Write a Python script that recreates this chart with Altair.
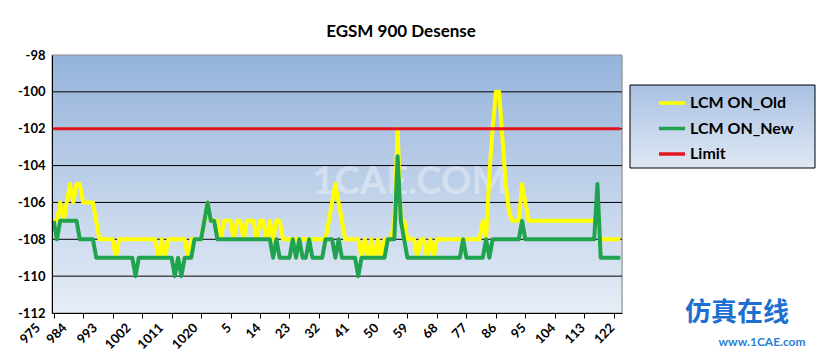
import altair as alt
import pandas as pd

# ---- categories / labels ----
channels = [str(c) for c in list(range(975, 1024)) + list(range(0, 125))]
tick_labels = ["975", "984", "993", "1002", "1011", "1020", "5", "14", "23", "32",
               "41", "50", "59", "68", "77", "86", "95", "104", "113", "122"]
y_ticks = [-112, -110, -108, -106, -104, -102, -100, -98]
grid_values = [-110, -108, -106, -104, -102, -100]
series_names = ["LCM ON_Old", "LCM ON_New", "Limit"]
series_colors = ["#ffff00", "#1fa34f", "#e3141e"]

# ---- series values ----
old_values = [
    -107, -107, -106, -107, -106, -105, -106, -105, -105, -106,   # 0-9
    -106, -106, -106, -107, -108, -108, -108, -108, -108, -109,   # 10-19
    -108, -108, -108, -108, -108, -108, -108, -108, -108, -108,   # 20-29
    -108, -108, -109, -108, -109, -108, -108, -108, -108, -108,   # 30-39
    -108, -109, -108, -108, -108, -108, -107, -106, -107, -107,   # 40-49
    -107, -108, -107, -107, -107, -108, -107, -107, -108, -107,   # 50-59
    -107, -107, -108, -107, -107, -108, -107, -108, -107, -107,   # 60-69
    -108, -108, -108, -108, -108, -108, -108, -108, -108, -108,   # 70-79
    -108, -108, -108, -108, -107, -106, -105, -106, -107, -108,   # 80-89
    -108, -108, -108, -108, -109, -108, -109, -108, -109, -108,   # 90-99
    -109, -108, -108, -108, -107, -102, -107, -107, -108, -108,   # 100-109
    -108, -109, -108, -108, -109, -108, -109, -108, -108, -108,   # 110-119
    -108, -108, -108, -108, -108, -108, -108, -108, -108, -108,   # 120-129
    -108, -107, -108, -104.5, -102, -100, -100, -102.5, -105, -106.5,  # 130-139
    -107, -107, -107, -105, -106, -107, -107, -107, -107, -107,   # 140-149
    -107, -107, -107, -107, -107, -107, -107, -107, -107, -107,   # 150-159
    -107, -107, -107, -107, -107, -107, -107, -108, -108, -108,   # 160-169
    -108, -108, -108, -108,                                       # 170-173
]
new_values = [
    -107, -108, -107, -107, -107, -107, -107, -107, -108, -108,   # 0-9
    -108, -108, -108, -109, -109, -109, -109, -109, -109, -109,   # 10-19
    -109, -109, -109, -109, -109, -110, -109, -109, -109, -109,   # 20-29
    -109, -109, -109, -109, -109, -109, -109, -110, -109, -110,   # 30-39
    -109, -109, -109, -108, -108, -108, -107, -106, -107, -107,   # 40-49
    -108, -108, -108, -108, -108, -108, -108, -108, -108, -108,   # 50-59
    -108, -108, -108, -108, -108, -108, -108, -109, -108, -109,   # 60-69
    -109, -109, -109, -108, -109, -108, -109, -109, -108, -109,   # 70-79
    -109, -109, -109, -108, -108, -108, -109, -108, -109, -109,   # 80-89
    -109, -109, -109, -110, -109, -109, -109, -109, -109, -109,   # 90-99
    -109, -109, -108, -108, -108, -103.5, -107, -108, -109, -109,  # 100-109
    -109, -109, -109, -109, -109, -109, -109, -109, -109, -109,   # 110-119
    -109, -109, -109, -109, -109, -108, -109, -109, -109, -109,   # 120-129
    -109, -109, -108, -109, -108, -108, -108, -108, -108, -108,   # 130-139
    -108, -108, -108, -107, -108, -108, -108, -108, -108, -108,   # 140-149
    -108, -108, -108, -108, -108, -108, -108, -108, -108, -108,   # 150-159
    -108, -108, -108, -108, -108, -108, -105, -109, -109, -109,   # 160-169
    -109, -109, -109, -109,                                       # 170-173
]
limit_values = [-102] * len(channels)

assert len(old_values) == len(channels) and len(new_values) == len(channels)

rows = []
for name, vals in zip(series_names, [old_values, new_values, limit_values]):
    for ch, v in zip(channels, vals):
        rows.append({"ch": ch, "v": v, "series": name})
df = pd.DataFrame(rows)

W, H = 570, 258

# Excel nudges the first rotated labels to the left
label_shift = {"975": -20, "984": -23, "993": -22, "1002": -18, "1011": -15, "1020": -10}
label_offset = {
    "condition": [{"test": f"datum.label == '{k}'", "value": v} for k, v in label_shift.items()],
    "value": -6,
}

x_enc = alt.X("ch:O", scale=alt.Scale(domain=channels), sort=None, title=None,
              axis=alt.Axis(values=tick_labels, labelAngle=-45, labelFont="Lato",
                            labelFontSize=13, labelFontWeight="bold", labelColor="black",
                            domainColor="black", domainWidth=1, tickColor="black",
                            tickSize=5, grid=False, zindex=1, labelPadding=3,
                            labelOffset=label_offset, labelFlush=False,
                            labelOverlap=False, title=None))
y_enc = alt.Y("v:Q", scale=alt.Scale(domain=[-112, -98], nice=False, zero=False), title=None,
              axis=alt.Axis(values=y_ticks, ticks=False, labelFont="Lato", labelFontSize=13,
                            labelFontWeight="bold", labelColor="black", domainColor="black",
                            grid=False, zindex=1, labelPadding=7, title=None,
                            labelExpr="'-' + abs(datum.value)"))

legend = alt.Legend(title=None, orient="none", legendX=605, legendY=33,
                    symbolType="stroke", symbolSize=680, symbolStrokeWidth=3.5,
                    labelFont="Lato", labelFontSize=16, labelFontWeight="bold",
                    labelColor="black", padding=0, rowPadding=2.5,
                    labelOffset=3)
color_enc = alt.Color("series:N", scale=alt.Scale(domain=series_names, range=series_colors),
                      legend=legend)

bg = alt.Chart(alt.Data(values=[{}])).mark_rect(
    fill=alt.Gradient(gradient="linear", x1=0, y1=0, x2=0, y2=1,
                      stops=[alt.GradientStop(offset=0, color="#95b3db"),
                             alt.GradientStop(offset=1, color="#e6edf6")]),
    stroke="#8c8c8c", strokeWidth=1
).encode(x=alt.value(0), x2=alt.value(W), y=alt.value(0), y2=alt.value(H))

legend_box = alt.Chart(alt.Data(values=[{}])).mark_rect(
    fill=alt.Gradient(gradient="linear", x1=0, y1=0, x2=0, y2=1,
                      stops=[alt.GradientStop(offset=0, color="#a9c1e3"),
                             alt.GradientStop(offset=1, color="#dfe8f4")]),
    stroke="black", strokeWidth=1
).encode(x=alt.value(578), x2=alt.value(763), y=alt.value(30), y2=alt.value(113))

grid = alt.Chart(pd.DataFrame({"v": grid_values})).mark_rule(
    color="black", strokeWidth=1).encode(y=y_enc)

wm = alt.Chart(alt.Data(values=[{}])).mark_text(
    text="1CAE.COM", font="Lato", fontSize=38, fontWeight="bold",
    color="white", opacity=0.35).encode(x=alt.value(358), y=alt.value(128))

widths = {"LCM ON_Old": 4, "LCM ON_New": 4, "Limit": 3}
lines = []
for name in series_names:
    lines.append(
        alt.Chart(df).transform_filter(alt.datum.series == name)
        .mark_line(strokeWidth=widths[name], strokeJoin="round")
        .encode(x=x_enc, y=y_enc, color=color_enc)
    )

logo1 = alt.Chart(alt.Data(values=[{}])).mark_text(
    text="仿真在线", font="Noto Sans CJK SC", fontSize=26, fontWeight="bold",
    color="#1d6fd0").encode(x=alt.value(685), y=alt.value(258))
logo2 = alt.Chart(alt.Data(values=[{}])).mark_text(
    text="www.1CAE.com", font="Lato", fontSize=12, fontWeight="bold",
    color="#2a7fd4").encode(x=alt.value(710), y=alt.value(287))

chart = alt.layer(bg, legend_box, grid, wm, *lines, logo1, logo2).properties(
    width=W, height=H,
    title=alt.TitleParams("EGSM 900  Desense", font="Lato", fontSize=17, fontWeight="bold",
                          color="black", anchor="middle", dx=64, offset=8),
    autosize=alt.AutoSizeParams(type="none"),
    padding={"left": 44, "top": 47, "right": 195, "bottom": 45},
).configure_view(stroke=None).configure(background="white")

chart.save("out.html", embed_options={"renderer": "svg", "actions": False})
